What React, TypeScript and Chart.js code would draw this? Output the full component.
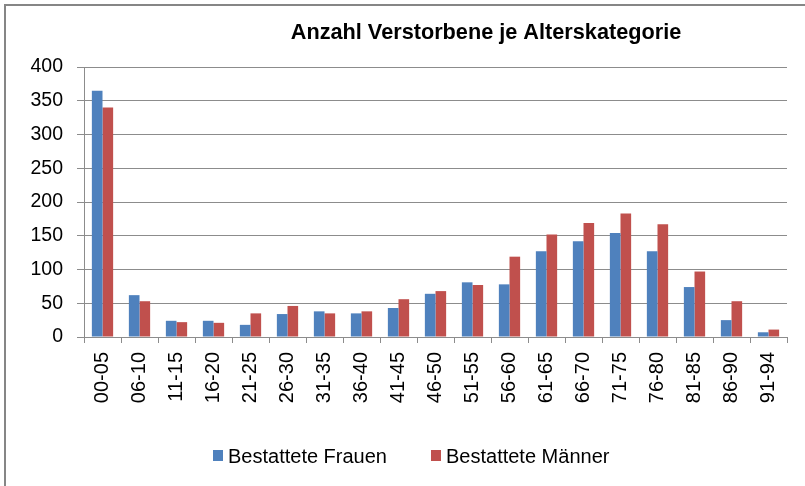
import React, { useEffect, useRef } from "react";
import { Chart, registerables } from "chart.js";

Chart.register(...registerables);

const chartTitle = "Anzahl Verstorbene je Alterskategorie";
const categories = [
  "00-05", "06-10", "11-15", "16-20", "21-25", "26-30", "31-35", "36-40", "41-45", "46-50",
  "51-55", "56-60", "61-65", "66-70", "71-75", "76-80", "81-85", "86-90", "91-94",
];
const seriesNames = ["Bestattete Frauen", "Bestattete Männer"];
const frauen = [365, 62, 24, 24, 18, 34, 38, 35, 43, 64, 81, 78, 127, 142, 154, 127, 74, 25, 7];
const maenner = [340, 53, 22, 21, 35, 46, 35, 38, 56, 68, 77, 119, 152, 169, 183, 167, 97, 53, 11];
const yMin = 0;
const yMax = 400;
const yStep = 50;

const BLUE = "#4F81BD";
const RED = "#C0504D";
const GRID = "#8C8C8C";
const FONT = "'Liberation Sans', Arial, sans-serif";

const decorPlugin = {
  id: "decor",
  beforeDraw(chart: any) {
    const ctx = chart.ctx;
    ctx.save();
    ctx.fillStyle = "#ffffff";
    ctx.fillRect(0, 0, chart.width, chart.height);
    ctx.restore();
  },
  afterDraw(chart: any) {
    const ctx = chart.ctx;
    ctx.save();
    // frame
    ctx.strokeStyle = "#868686";
    ctx.lineWidth = 2;
    ctx.beginPath();
    ctx.moveTo(5, chart.height);
    ctx.lineTo(5, 5);
    ctx.lineTo(chart.width, 5);
    ctx.stroke();

    // title
    ctx.fillStyle = "#000000";
    ctx.font = `bold 21.7px ${FONT}`;
    ctx.textAlign = "center";
    ctx.textBaseline = "alphabetic";
    ctx.fillText(chartTitle, 486, 39);

    // legend
    ctx.font = `20px ${FONT}`;
    ctx.textAlign = "left";
    let x = 213;
    const baseline = 462.5;
    chart.data.datasets.forEach((ds: any) => {
      ctx.fillStyle = ds.backgroundColor;
      ctx.fillRect(x, 450, 10, 11);
      ctx.fillStyle = "#000000";
      ctx.fillText(ds.label, x + 15, baseline);
      x += 15 + ctx.measureText(ds.label).width + 44;
    });
    ctx.restore();
  },
};

export default function App() {
  const ref = useRef<HTMLCanvasElement | null>(null);

  useEffect(() => {
    if (!ref.current) return;
    const chart = new Chart(ref.current, {
      type: "bar",
      data: {
        labels: categories,
        datasets: [
          { label: seriesNames[0], data: frauen, backgroundColor: BLUE, borderWidth: 0 },
          { label: seriesNames[1], data: maenner, backgroundColor: RED, borderWidth: 0 },
        ],
      },
      options: {
        animation: false,
        responsive: false,
        devicePixelRatio: 1,
        layout: { padding: { left: 5, top: 67, right: 18, bottom: 0 } },
        datasets: {
          bar: { categoryPercentage: 0.575, barPercentage: 1.0 },
        },
        plugins: {
          legend: { display: false },
          title: { display: false },
          tooltip: { enabled: false },
        },
        scales: {
          x: {
            afterFit: (scale: any) => {
              scale.height = 149;
            },
            grid: {
              display: true,
              drawOnChartArea: false,
              drawTicks: true,
              tickLength: 6,
              color: GRID,
              offset: true,
            },
            border: { display: true, color: GRID, width: 1 },
            ticks: {
              autoSkip: false,
              minRotation: 90,
              maxRotation: 90,
              padding: 9,
              color: "#000000",
              font: { family: FONT, size: 20 },
            },
          },
          y: {
            min: yMin,
            max: yMax,
            afterFit: (scale: any) => {
              scale.width = 79;
            },
            grid: {
              display: true,
              drawOnChartArea: true,
              drawTicks: true,
              tickLength: 7,
              color: GRID,
              lineWidth: 1,
            },
            border: { display: true, color: GRID, width: 1 },
            ticks: {
              stepSize: yStep,
              padding: 14,
              color: "#000000",
              font: { family: FONT, size: 19.5 },
            },
          },
        },
      },
      plugins: [decorPlugin],
    });
    return () => chart.destroy();
  }, []);

  return (
    <div style={{ position: "absolute", left: 0, top: 0, width: 805, height: 486, background: "#fff" }}>
      <canvas ref={ref} width={805} height={486} style={{ display: "block", width: 805, height: 486 }} />
    </div>
  );
}
